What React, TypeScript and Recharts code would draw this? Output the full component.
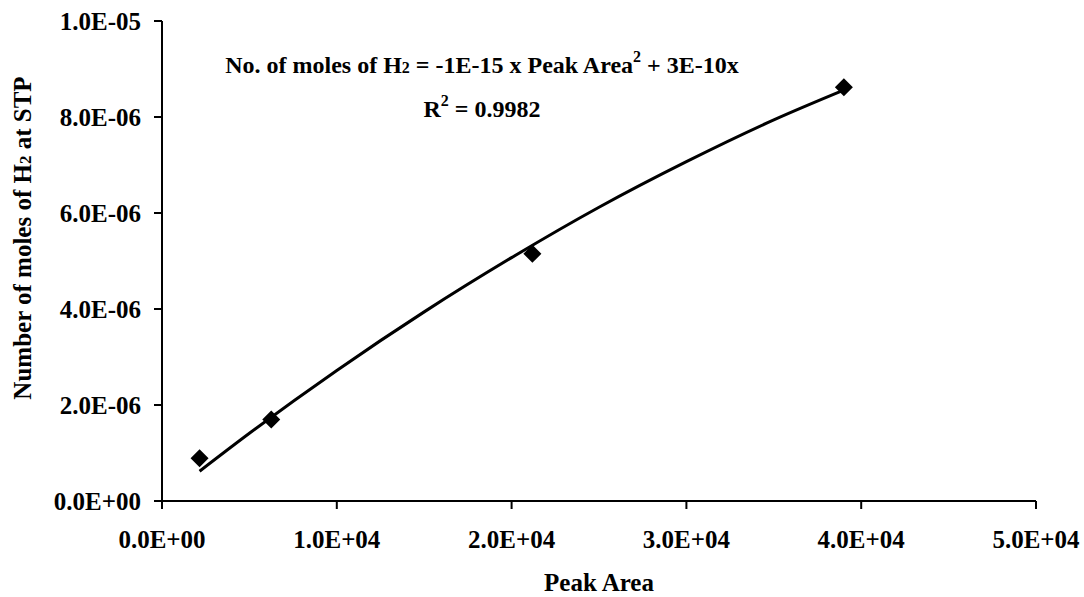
import React from 'react';
import {
  ScatterChart,
  Scatter,
  XAxis,
  YAxis,
  Customized
} from 'recharts';

// measured points (peak area vs moles of H2)
const peakAreas = [2150, 6250, 21190, 39010];
const moles = [0.89e-6, 1.7e-6, 5.15e-6, 8.62e-6];

// trendline
const trendAreas = [2150, 5000, 10000, 15000, 20000, 25000, 30000, 35000, 39000];
const trendMoles = [0.62e-6, 1.41e-6, 2.72e-6, 3.94e-6, 5.07e-6, 6.12e-6, 7.07e-6, 7.94e-6, 8.56e-6];

const xTicks = [0, 10000, 20000, 30000, 40000, 50000];
const yTicks = [0, 2e-6, 4e-6, 6e-6, 8e-6, 1e-5];

const points = peakAreas.map((x, i) => ({ x, y: moles[i] }));
const trend = trendAreas.map((x, i) => ({ x, y: trendMoles[i] }));

const FONT = '"Liberation Serif", "Times New Roman", serif';

const sci = (v: number) => {
  if (v === 0) return '0.0E+00';
  const [m, e] = v.toExponential(1).toUpperCase().split('E');
  const n = parseInt(e, 10);
  const sign = n < 0 ? '-' : '+';
  return `${m}E${sign}${String(Math.abs(n)).padStart(2, '0')}`;
};

const Diamond = (props: any) => {
  const { cx, cy } = props;
  const r = 9;
  return (
    <polygon
      points={`${cx},${cy - r} ${cx + r},${cy} ${cx},${cy + r} ${cx - r},${cy}`}
      fill="#000"
    />
  );
};

const Annotations = () => (
  <g fontFamily={FONT} fontWeight="bold" fill="#000">
    <text x={482} y={73} fontSize={24} textAnchor="middle">
      No. of moles of H<tspan fontSize={16}>2</tspan> = -1E-15 x Peak Area
      <tspan fontSize={16} dy={-11}>2</tspan>
      <tspan dy={11}> + 3E-10x</tspan>
    </text>
    <text x={482} y={117} fontSize={24} textAnchor="middle">
      R<tspan fontSize={16} dy={-11}>2</tspan>
      <tspan dy={11}> = 0.9982</tspan>
    </text>
    <text
      x={31}
      y={238}
      fontSize={25}
      textAnchor="middle"
      transform="rotate(-90 31 238)"
    >
      Number of moles of H<tspan fontSize={17}>2</tspan> at STP
    </text>
    <text x={599} y={591} fontSize={25} textAnchor="middle">
      Peak Area
    </text>
  </g>
);

const tickStyle = { fill: '#000', fontSize: 25, fontWeight: 'bold', fontFamily: FONT };

const App: React.FC = () => {
  return (
    <div style={{ position: 'absolute', left: 0, top: 0, width: 1084, height: 597, background: '#fff' }}>
      <ScatterChart
        width={1084}
        height={597}
        margin={{ top: 21, right: 48, bottom: 0, left: 0 }}
      >
        <XAxis
          type="number"
          dataKey="x"
          domain={[0, 50000]}
          ticks={xTicks}
          tickFormatter={sci}
          axisLine={{ stroke: '#000', strokeWidth: 2 }}
          tickLine={{ stroke: '#000', strokeWidth: 2 }}
          tickSize={8}
          tickMargin={21}
          tick={tickStyle}
          height={96}
          interval={0}
        />
        <YAxis
          type="number"
          dataKey="y"
          domain={[0, 1e-5]}
          ticks={yTicks}
          tickFormatter={sci}
          axisLine={{ stroke: '#000', strokeWidth: 2 }}
          tickLine={{ stroke: '#000', strokeWidth: 2 }}
          tickSize={8}
          tickMargin={13}
          tick={tickStyle}
          width={162}
          interval={0}
        />
        <Scatter
          data={trend}
          line={{ stroke: '#000', strokeWidth: 3 }}
          lineJointType="monotoneX"
          shape={() => null}
          isAnimationActive={false}
        />
        <Scatter data={points} shape={<Diamond />} isAnimationActive={false} />
        <Customized component={Annotations} />
      </ScatterChart>
    </div>
  );
};

export default App;
